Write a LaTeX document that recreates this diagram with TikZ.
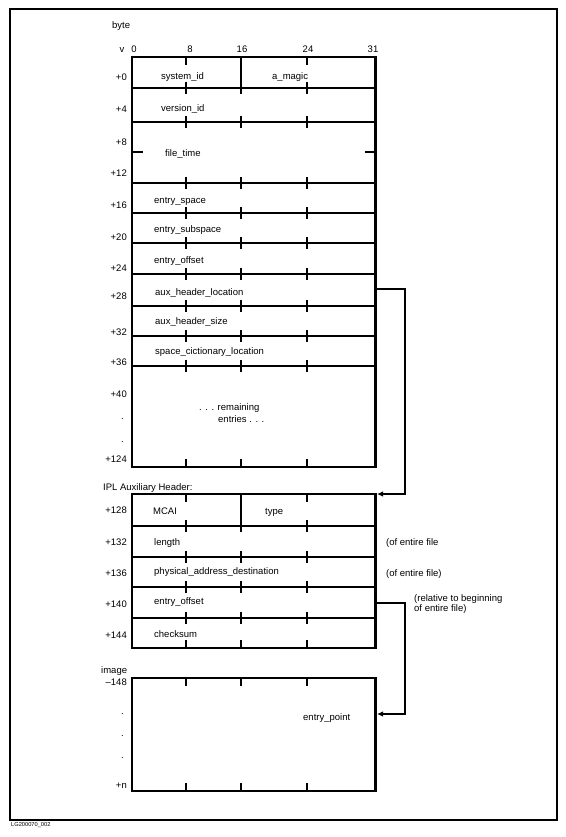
\documentclass[tikz,border=0pt]{standalone}
\usepackage{fontspec}
\setmainfont{Liberation Sans}
\usetikzlibrary{arrows.meta}
\begin{document}
\begin{tikzpicture}[x=1pt,y=-1pt,
  txt/.style={font=\fontsize{9.5}{11}\selectfont,inner sep=0pt},
  offl/.style={txt,anchor=base east},
  fld/.style={txt,anchor=base west},
  ctr/.style={txt,anchor=base},
  boxline/.style={line width=2.5pt},
  rowline/.style={line width=2pt},
  tickline/.style={line width=1.6pt},
  conn/.style={line width=1.6pt,-{Latex[length=6pt,width=5.5pt]}},
  frameline/.style={line width=1.1pt}]
\useasboundingbox (0,0) rectangle (565,837);
\draw[frameline] (10,9) rectangle (557,820);

% ---------- header of columns ----------
\node[fld] (byte) at (112,29) {byte};
\node[ctr] (v) at (122,53) {v};
\node[ctr] (b0) at (134,53) {0};
\node[ctr] (b8) at (190,53) {8};
\node[ctr] (b16) at (242,53) {16};
\node[ctr] (b24) at (308,53) {24};
\node[ctr] (b31) at (373,53) {31};

% ---------- main header box ----------
\draw[boxline] (132,57) rectangle (375.5,467);
\foreach \y in {88,122,183,213,243,274,306,336,366}
  \draw[rowline] (132,\y) -- (375.5,\y);
\foreach \y in {88,122,183,213,243,274,306,336,366}
  \foreach \x in {186,241,307}
    \draw[tickline] (\x,{\y-6}) -- (\x,{\y+6});
\foreach \x in {186,307}
  \draw[tickline] (\x,57) -- (\x,65);
\foreach \x in {186,241,307}
  \draw[tickline] (\x,467) -- (\x,459);
\draw[rowline] (241,57) -- (241,88);
\draw[rowline] (132,152) -- (143,152);
\draw[rowline] (365,152) -- (375.5,152);

\node[offl] (o0) at (127,81) {+0};
\node[offl] (o4) at (127,113) {+4};
\node[offl] (o8) at (127,146) {+8};
\node[offl] (o12) at (127,177) {+12};
\node[offl] (o16) at (127,208) {+16};
\node[offl] (o20) at (127,240) {+20};
\node[offl] (o24) at (127,271) {+24};
\node[offl] (o28) at (127,299) {+28};
\node[offl] (o32) at (127,335) {+32};
\node[offl] (o36) at (127,365) {+36};
\node[offl] (o40) at (127,397) {+40};
\node[offl] (od1) at (124,419) {.};
\node[offl] (od2) at (124,442) {.};
\node[offl] (o124) at (127,462) {+124};

\node[fld] (sysid) at (161,80) {system\_id};
\node[fld] (amagic) at (272,80) {a\_magic};
\node[fld] (verid) at (161,112) {version\_id};
\node[fld] (ftime) at (165,157) {file\_time};
\node[fld] (espace) at (154,203) {entry\_space};
\node[fld] (esub) at (154,232) {entry\_subspace};
\node[fld] (eoff) at (154,263) {entry\_offset};
\node[fld] (auxloc) at (155,295) {aux\_header\_location};
\node[fld] (auxsize) at (155,324) {aux\_header\_size};
\node[fld] (sdict) at (155,354) {space\_cictionary\_location};
\node[fld] (rem1) at (199,410) {. . . remaining};
\node[fld] (rem2) at (218,422) {entries . . .};

% ---------- IPL auxiliary header ----------
\node[fld] (iplt) at (103,490) {IPL Auxiliary Header:};
\draw[boxline] (132,494) rectangle (375.5,648);
\foreach \y in {526,557,587,618}
  \draw[rowline] (132,\y) -- (375.5,\y);
\foreach \y in {526,557,587,618}
  \foreach \x in {186,241,307}
    \draw[tickline] (\x,{\y-6}) -- (\x,{\y+6});
\foreach \x in {186,307}
  \draw[tickline] (\x,494) -- (\x,502);
\foreach \x in {186,241,307}
  \draw[tickline] (\x,648) -- (\x,640);
\draw[rowline] (241,494) -- (241,526);

\node[offl] (o128) at (127,513) {+128};
\node[offl] (o132) at (127,545) {+132};
\node[offl] (o136) at (127,576) {+136};
\node[offl] (o140) at (127,607) {+140};
\node[offl] (o144) at (127,638) {+144};

\node[fld] (mcai) at (153,514) {MCAI};
\node[fld] (type) at (265,514) {type};
\node[fld] (len) at (154,545) {length};
\node[fld] (pad) at (154,574) {physical\_address\_destination};
\node[fld] (ieoff) at (154,604) {entry\_offset};
\node[fld] (csum) at (154,637) {checksum};

\node[fld] (n1) at (386,545) {(of entire file};
\node[fld] (n2) at (386,576) {(of entire file)};
\node[fld] (n3) at (414,601) {(relative to beginning};
\node[fld] (n4) at (414,611) {of entire file)};

% ---------- image ----------
\node[fld] (imgt) at (101,673) {image};
\draw[boxline] (132,678) rectangle (375.5,791);
\foreach \x in {186,241,307}
  \draw[tickline] (\x,678) -- (\x,686);
\foreach \x in {186,241,307}
  \draw[tickline] (\x,791) -- (\x,783);
\node[offl] (o148) at (127,685) {–148};
\node[offl] (id1) at (124,714) {.};
\node[offl] (id2) at (124,736) {.};
\node[offl] (id3) at (124,758) {.};
\node[offl] (on) at (127,788) {+n};
\node[fld] (ept) at (303,720) {entry\_point};

% ---------- connectors ----------
\coordinate (c1s) at (375.5,289);
\coordinate (c1m) at (405,289);
\coordinate (c1e) at (377,494);
\draw[conn] (c1s) -- (c1m) |- (c1e);
\coordinate (c2s) at (375.5,603);
\coordinate (c2m) at (405,603);
\coordinate (c2e) at (377,714);
\draw[conn] (c2s) -- (c2m) |- (c2e);

\node[txt,font=\fontsize{5.7}{6}\selectfont,anchor=base west] (code) at (11,826) {LG200070\_002};
\end{tikzpicture}
\end{document}
